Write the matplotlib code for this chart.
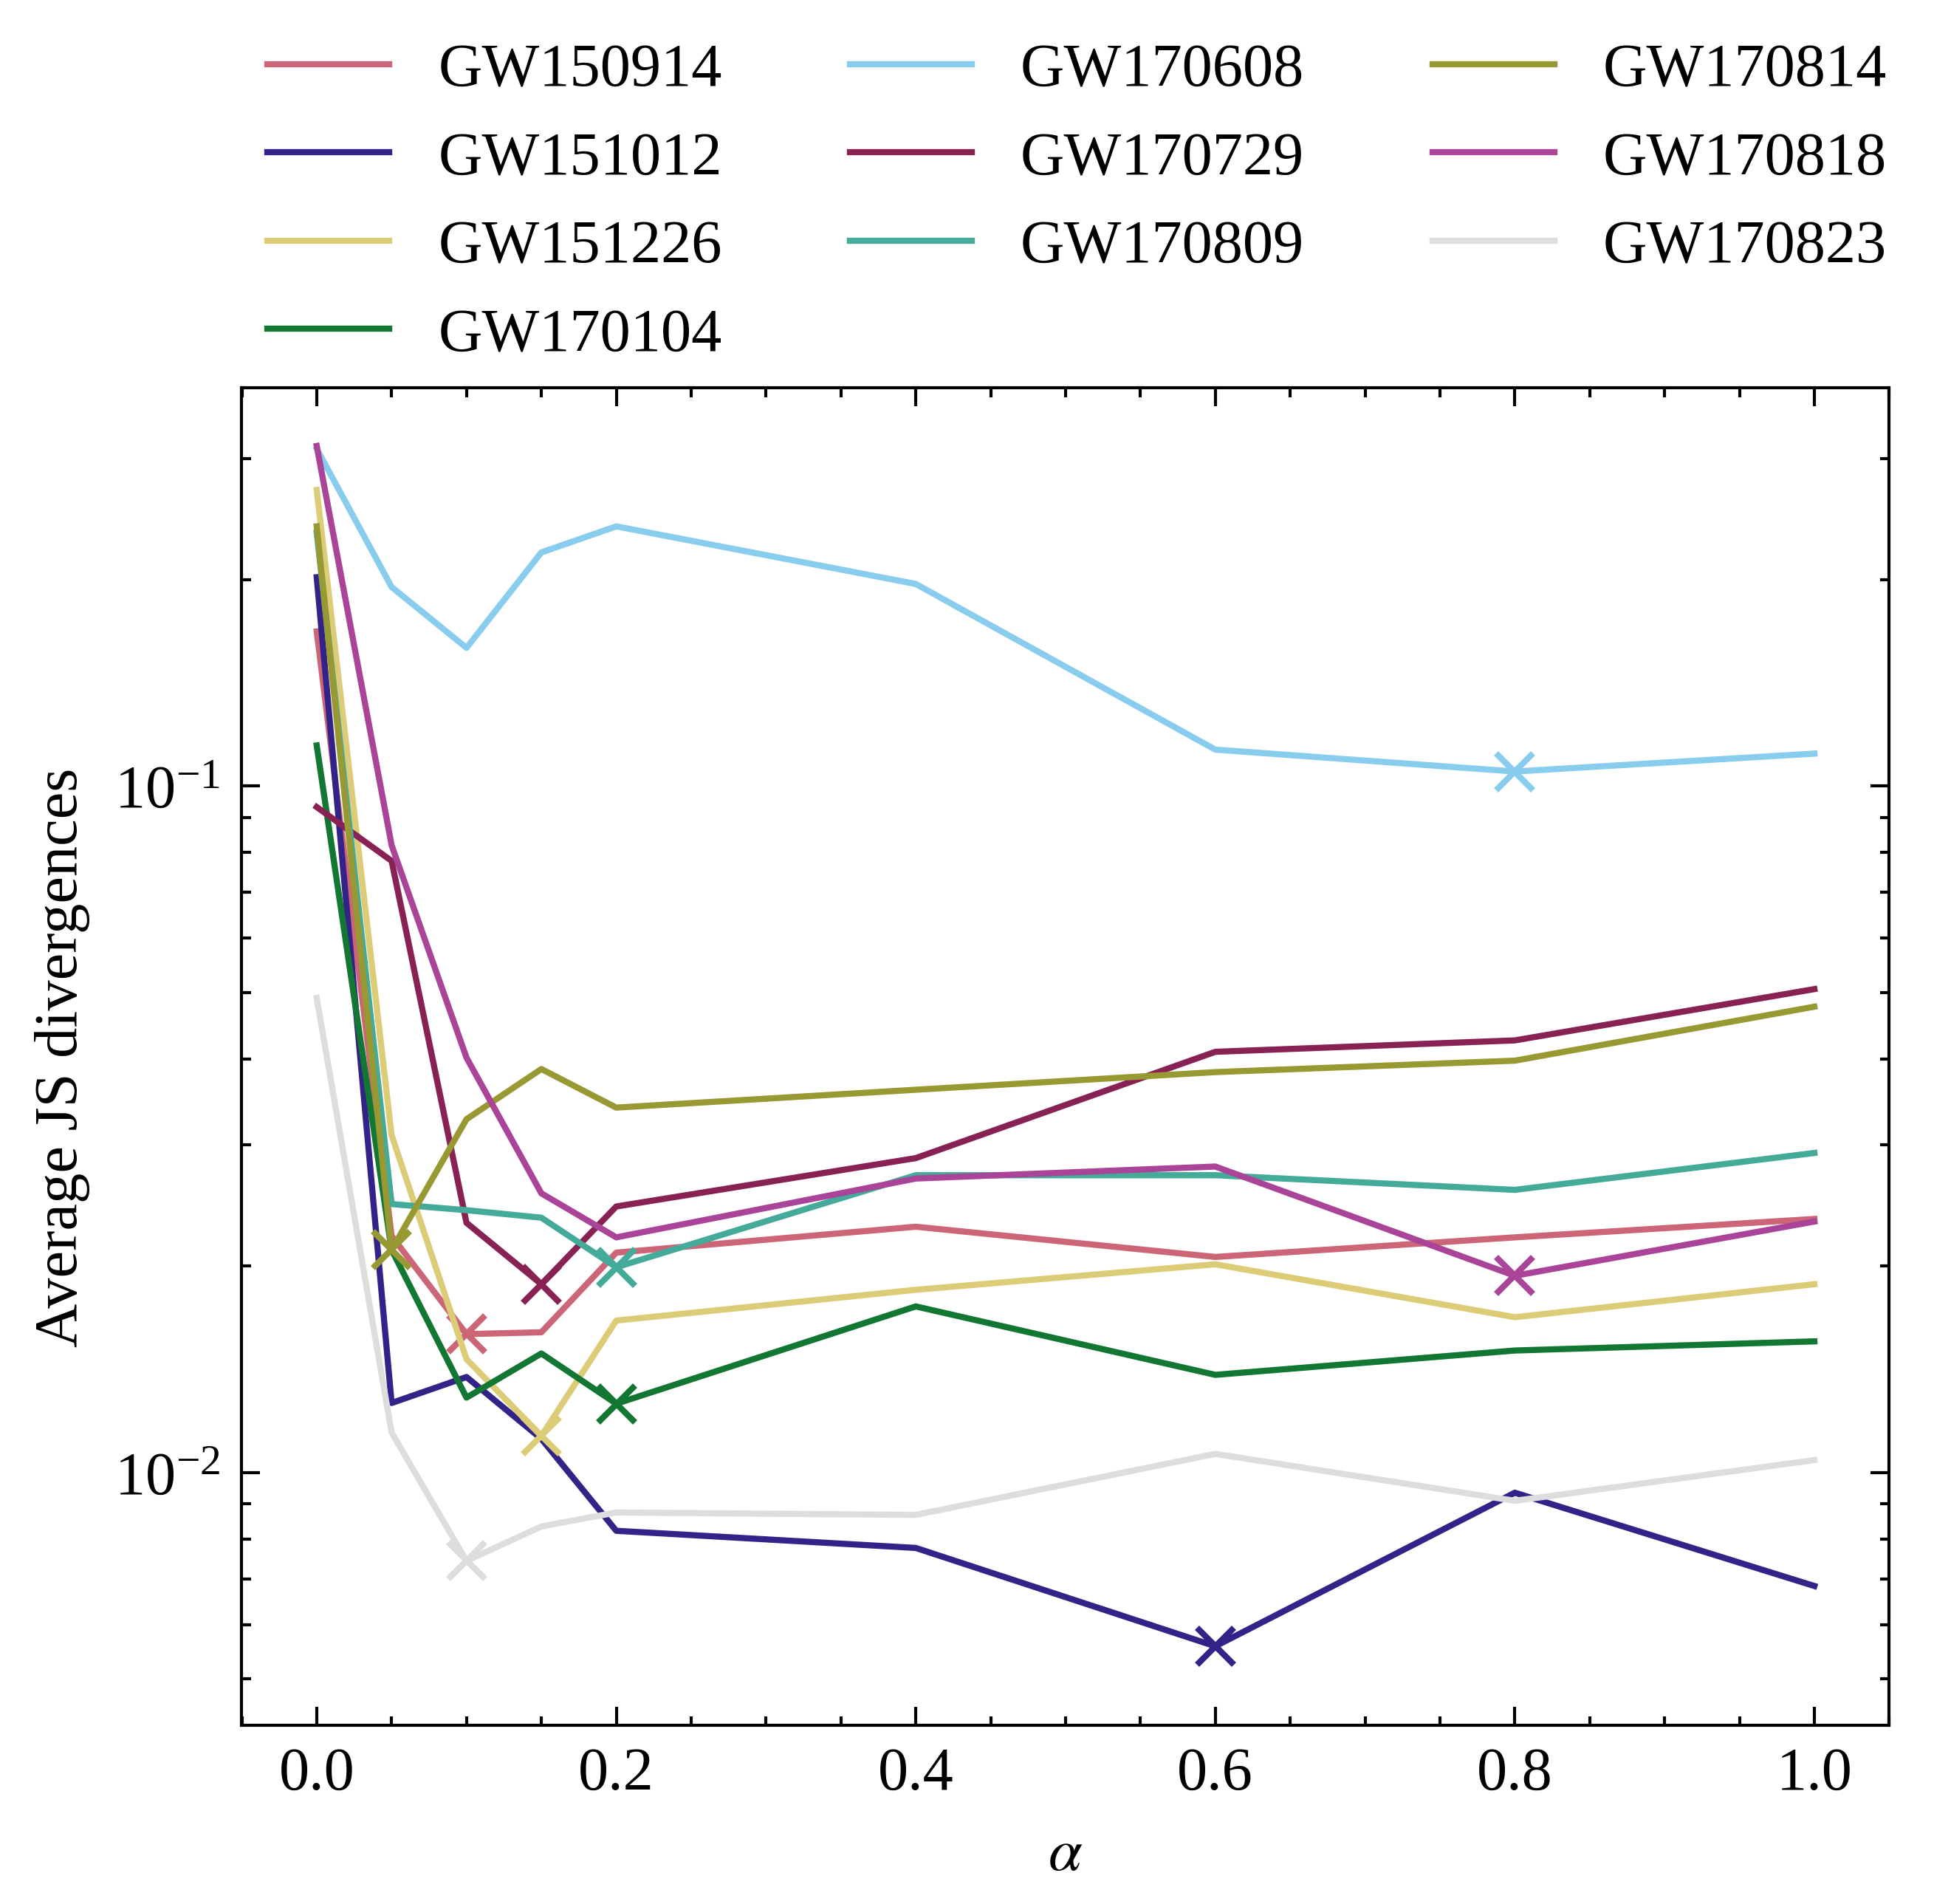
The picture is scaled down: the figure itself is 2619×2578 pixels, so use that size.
import numpy as np
import matplotlib
matplotlib.use("Agg")
import matplotlib.pyplot as plt

# alpha grid
alpha = [0.0, 0.05, 0.1, 0.15, 0.2, 0.4, 0.6, 0.8, 1.0]

events = ["GW150914", "GW151012", "GW151226", "GW170104", "GW170608",
          "GW170729", "GW170809", "GW170814", "GW170818", "GW170823"]

# average JS divergences
gw150914 = [0.168, 0.0221, 0.0159, 0.0160, 0.0209, 0.0228, 0.0206, 0.0220, 0.0234]
gw151012 = [0.2015, 0.01262, 0.01377, 0.01119, 0.00822, 0.00776, 0.00558, 0.00934, 0.00683]
gw151226 = [0.270, 0.0310, 0.01462, 0.0113, 0.01664, 0.01845, 0.0201, 0.01683, 0.0188]
gw170104 = [0.1146, 0.0211, 0.01285, 0.0149, 0.01259, 0.01745, 0.01387, 0.01505, 0.01552]
gw170608 = [0.310, 0.195, 0.159, 0.219, 0.239, 0.197, 0.1130, 0.1050, 0.1115]
gw170729 = [0.0932, 0.0778, 0.0231, 0.0188, 0.0244, 0.0287, 0.0410, 0.0426, 0.0506]
gw170809 = [0.234, 0.0246, 0.0241, 0.0235, 0.0199, 0.0271, 0.0271, 0.0258, 0.0292]
gw170814 = [0.239, 0.0211, 0.0327, 0.0387, 0.0340, 0.0361, 0.0383, 0.0398, 0.0477]
gw170818 = [0.313, 0.0820, 0.0402, 0.0255, 0.0220, 0.0268, 0.0279, 0.01934, 0.0232]
gw170823 = [0.0491, 0.01143, 0.00743, 0.00834, 0.00874, 0.00867, 0.01064, 0.00909, 0.01042]

series = [gw150914, gw151012, gw151226, gw170104, gw170608,
          gw170729, gw170809, gw170814, gw170818, gw170823]

colors = ['#CC6677', '#332288', '#DDCC77', '#117733', '#88CCEE',
          '#882255', '#44AA99', '#999933', '#AA4499', '#DDDDDD']

plt.rcParams.update({
    'font.family': 'serif',
    'font.serif': ['Liberation Serif', 'DejaVu Serif'],
    'mathtext.fontset': 'stix',
    'font.size': 9.9,
    'axes.linewidth': 0.5,
    'lines.linewidth': 1.0,
    'xtick.direction': 'in', 'ytick.direction': 'in',
    'xtick.top': True, 'ytick.right': True,
    'xtick.minor.visible': True, 'ytick.minor.visible': True,
    'xtick.major.size': 3, 'xtick.minor.size': 1.5,
    'ytick.major.size': 3, 'ytick.minor.size': 1.5,
    'xtick.major.width': 0.5, 'xtick.minor.width': 0.5,
    'ytick.major.width': 0.5, 'ytick.minor.width': 0.5,
})

fig = plt.figure(figsize=(2620 / 600, 2579 / 600), dpi=600)
ax = fig.add_axes([0.125, 0.094, 0.9765 - 0.125, 0.796 - 0.094])

for name, vals, c in zip(events, series, colors):
    ax.plot(alpha, vals, color=c, label=name)
    i = int(np.argmin(vals))
    ax.plot(alpha[i], vals[i], 'x', color=c, ms=6, mew=1.0)

ax.set_yscale('log')
ax.set_xlim(-0.05, 1.05)
ax.set_ylim(0.004285, 0.3804)
ax.set_xlabel(r'$\alpha$')
ax.set_ylabel('Average JS divergences')
ax.legend(loc='lower center', bbox_to_anchor=(0.507, 1.0), ncol=3, frameon=False,
          borderaxespad=0, labelspacing=0.53, columnspacing=2.1)

fig.savefig('out.png', dpi=600)
